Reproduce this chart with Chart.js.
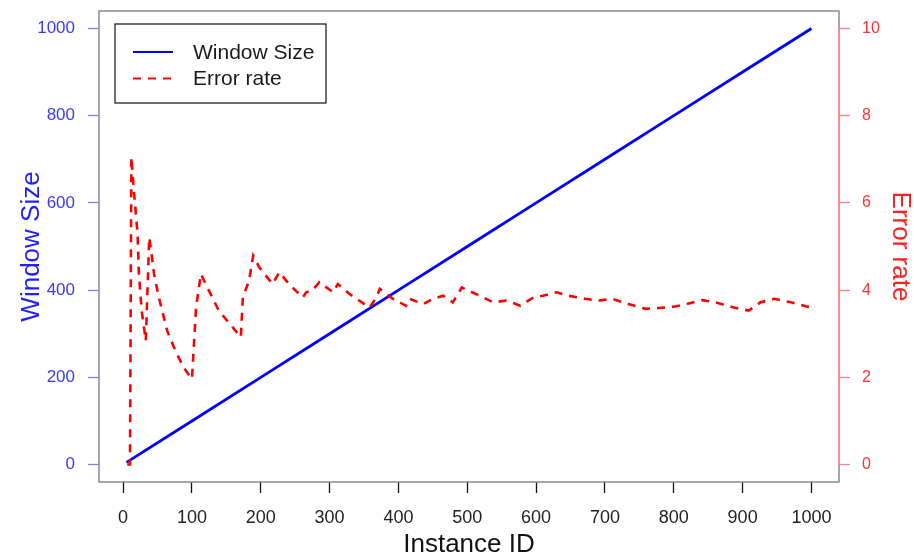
<!DOCTYPE html>
<html>
<head>
<meta charset="utf-8">
<script src="https://cdn.jsdelivr.net/npm/chart.js@4.4.1/dist/chart.umd.min.js"></script>
<style>
  html, body { margin: 0; padding: 0; background: #fff; }
  .chart-container { width: 914px; height: 555px; position: relative; }
</style>
</head>
<body>
<div class="chart-container">
  <canvas id="window-error-chart"></canvas>
</div>
<script>
// window size grows with the instance id
const instance_ids = [5, 100, 200, 300, 400, 500, 600, 700, 800, 900, 1000];
const window_sizes = [5, 100, 200, 300, 400, 500, 600, 700, 800, 900, 1000];

// error rate
const error_ids = [
  6, 10, 12, 16, 19, 21, 23, 27, 33, 38, 42, 45, 52, 64, 76, 88, 100,
  106, 113, 120, 139, 159, 171, 174, 183, 189, 198, 217, 227, 241, 261,
  266, 275, 285, 305, 312, 329, 358, 368, 373, 392, 411, 416, 436, 450,
  465, 479, 492, 518, 538, 557, 577, 596, 610, 630, 647, 671, 691, 710,
  734, 759, 778, 800, 819, 841, 861, 887, 909, 926, 946, 970, 994, 1000
];
const error_rates = [
  0, 0, 7.05, 6.21, 5.67, 5.29, 4.37, 3.53, 2.84, 5.21, 4.75, 4.37, 3.83, 3.07, 2.61, 2.22, 1.96,
  3.6, 4.37, 4.14, 3.53, 3.15, 2.92, 3.83, 4.22, 4.79, 4.52, 4.14, 4.41, 4.14, 3.83,
  3.95, 3.99, 4.18, 3.95, 4.14, 3.91, 3.6, 3.83, 4.03, 3.8, 3.64, 3.8, 3.68, 3.8,
  3.87, 3.72, 4.06, 3.87, 3.72, 3.76, 3.64, 3.83, 3.87, 3.95, 3.87, 3.8, 3.76, 3.8,
  3.68, 3.57, 3.59, 3.62, 3.68, 3.77, 3.72, 3.6, 3.53, 3.72, 3.8, 3.72, 3.62, 3.62
];

const x_ticks = [0, 100, 200, 300, 400, 500, 600, 700, 800, 900, 1000];
const size_ticks = [0, 200, 400, 600, 800, 1000];
const rate_ticks = [0, 2, 4, 6, 8, 10];

const sans = "'Liberation Sans', Arial, sans-serif";

const setTicks = (values) => (scale) => {
  scale.ticks = values.map(v => ({ value: v }));
};
// fixed axis sizes, no extra label padding around the plot
const fitY = (w) => (scale) => {
  scale.width = w;
  scale.paddingTop = 0;
  scale.paddingBottom = 0;
};
const fitX = (h) => (scale) => {
  scale.height = h;
  scale.paddingLeft = 0;
  scale.paddingRight = 0;
};
const plainLabel = (value) => String(value);

// R style frame, pink right axis line and the legend box
const framePlugin = {
  id: 'frame',
  afterDraw(chart) {
    const { ctx, chartArea: a } = chart;
    const y1 = chart.scales.y1;
    ctx.save();
    ctx.strokeStyle = '#8a8a8a';
    ctx.lineWidth = 1.5;
    ctx.strokeRect(a.left, a.top, a.right - a.left, a.bottom - a.top);

    ctx.strokeStyle = '#ff8c8c';
    ctx.beginPath();
    ctx.moveTo(a.right, y1.getPixelForValue(0));
    ctx.lineTo(a.right, y1.getPixelForValue(10));
    ctx.stroke();

    // legend
    const lx = a.left + 16, ly = a.top + 13, lw = 211, lh = 79;
    ctx.fillStyle = '#fff';
    ctx.fillRect(lx, ly, lw, lh);
    ctx.strokeStyle = '#111';
    ctx.lineWidth = 1.2;
    ctx.strokeRect(lx, ly, lw, lh);
    ctx.font = '21px ' + sans;
    ctx.textBaseline = 'middle';
    ctx.textAlign = 'left';
    chart.data.datasets.forEach((ds, i) => {
      const yy = ly + 28 + i * 26.5;
      ctx.strokeStyle = ds.borderColor;
      ctx.lineWidth = 2;
      ctx.setLineDash(ds.borderDash || []);
      ctx.beginPath();
      ctx.moveTo(lx + 18, yy);
      ctx.lineTo(lx + 58, yy);
      ctx.stroke();
      ctx.setLineDash([]);
      ctx.fillStyle = '#1a1a1a';
      ctx.fillText(ds.label, lx + 78, yy + 1);
    });
    ctx.restore();
  }
};

const container = document.getElementById('window-error-chart').getContext('2d');
new Chart(container, {
  type: 'line',
  data: {
    datasets: [
      {
        label: 'Window Size',
        data: instance_ids.map((x, i) => ({ x: x, y: window_sizes[i] })),
        borderColor: '#0000ff',
        borderWidth: 2.8,
        pointRadius: 0,
        tension: 0,
        yAxisID: 'y',
        order: 2,
      },
      {
        label: 'Error rate',
        data: error_ids.map((x, i) => ({ x: x, y: error_rates[i] })),
        borderColor: '#ff0000',
        borderWidth: 2.6,
        borderDash: [8, 7],
        pointRadius: 0,
        tension: 0,
        yAxisID: 'y1',
        order: 1,
      },
    ],
  },
  options: {
    animation: false,
    maintainAspectRatio: false,
    responsive: true,
    layout: { padding: { top: 11, left: 0, right: 0, bottom: 0 } },
    plugins: {
      legend: { display: false },
      tooltip: { enabled: false },
    },
    scales: {
      x: {
        type: 'linear',
        min: -35,
        max: 1040,
        afterBuildTicks: setTicks(x_ticks),
        afterFit: fitX(73),
        grid: { drawOnChartArea: false, tickLength: 11, tickColor: '#111', tickWidth: 1.3 },
        border: { display: false },
        ticks: {
          color: '#222',
          padding: 14,
          maxRotation: 0,
          autoSkip: false,
          callback: plainLabel,
          font: { family: "'Liberation Sans Narrow', " + sans, size: 18 },
        },
        title: {
          display: true,
          text: 'Instance ID',
          color: '#111',
          font: { family: sans, size: 26, lineHeight: 1 },
          padding: { top: 0, bottom: -3 },
        },
      },
      y: {
        type: 'linear',
        position: 'left',
        min: -40,
        max: 1040,
        afterBuildTicks: setTicks(size_ticks),
        afterFit: fitY(99),
        grid: { drawOnChartArea: false, tickLength: 11, tickColor: '#8080ff', tickWidth: 1.3 },
        border: { display: false },
        ticks: {
          color: '#3a3aff',
          padding: 13,
          callback: plainLabel,
          font: { family: sans, size: 17 },
        },
        title: {
          display: true,
          text: 'Window Size',
          color: '#1f1fff',
          font: { family: sans, size: 26, lineHeight: 1 },
          padding: { top: 19, bottom: 0 },
        },
      },
      y1: {
        type: 'linear',
        position: 'right',
        min: -0.4,
        max: 10.4,
        afterBuildTicks: setTicks(rate_ticks),
        afterFit: fitY(75),
        grid: { drawOnChartArea: false, tickLength: 11, tickColor: '#ff8080', tickWidth: 1.3 },
        border: { display: false },
        ticks: {
          color: '#ff3030',
          padding: 12,
          callback: plainLabel,
          font: { family: sans, size: 16 },
        },
        title: {
          display: true,
          text: 'Error rate',
          color: '#ff1f1f',
          font: { family: sans, size: 26, lineHeight: 1 },
          padding: { top: 1, bottom: 0 },
        },
      },
    },
  },
  plugins: [framePlugin],
});
</script>
</body>
</html>
